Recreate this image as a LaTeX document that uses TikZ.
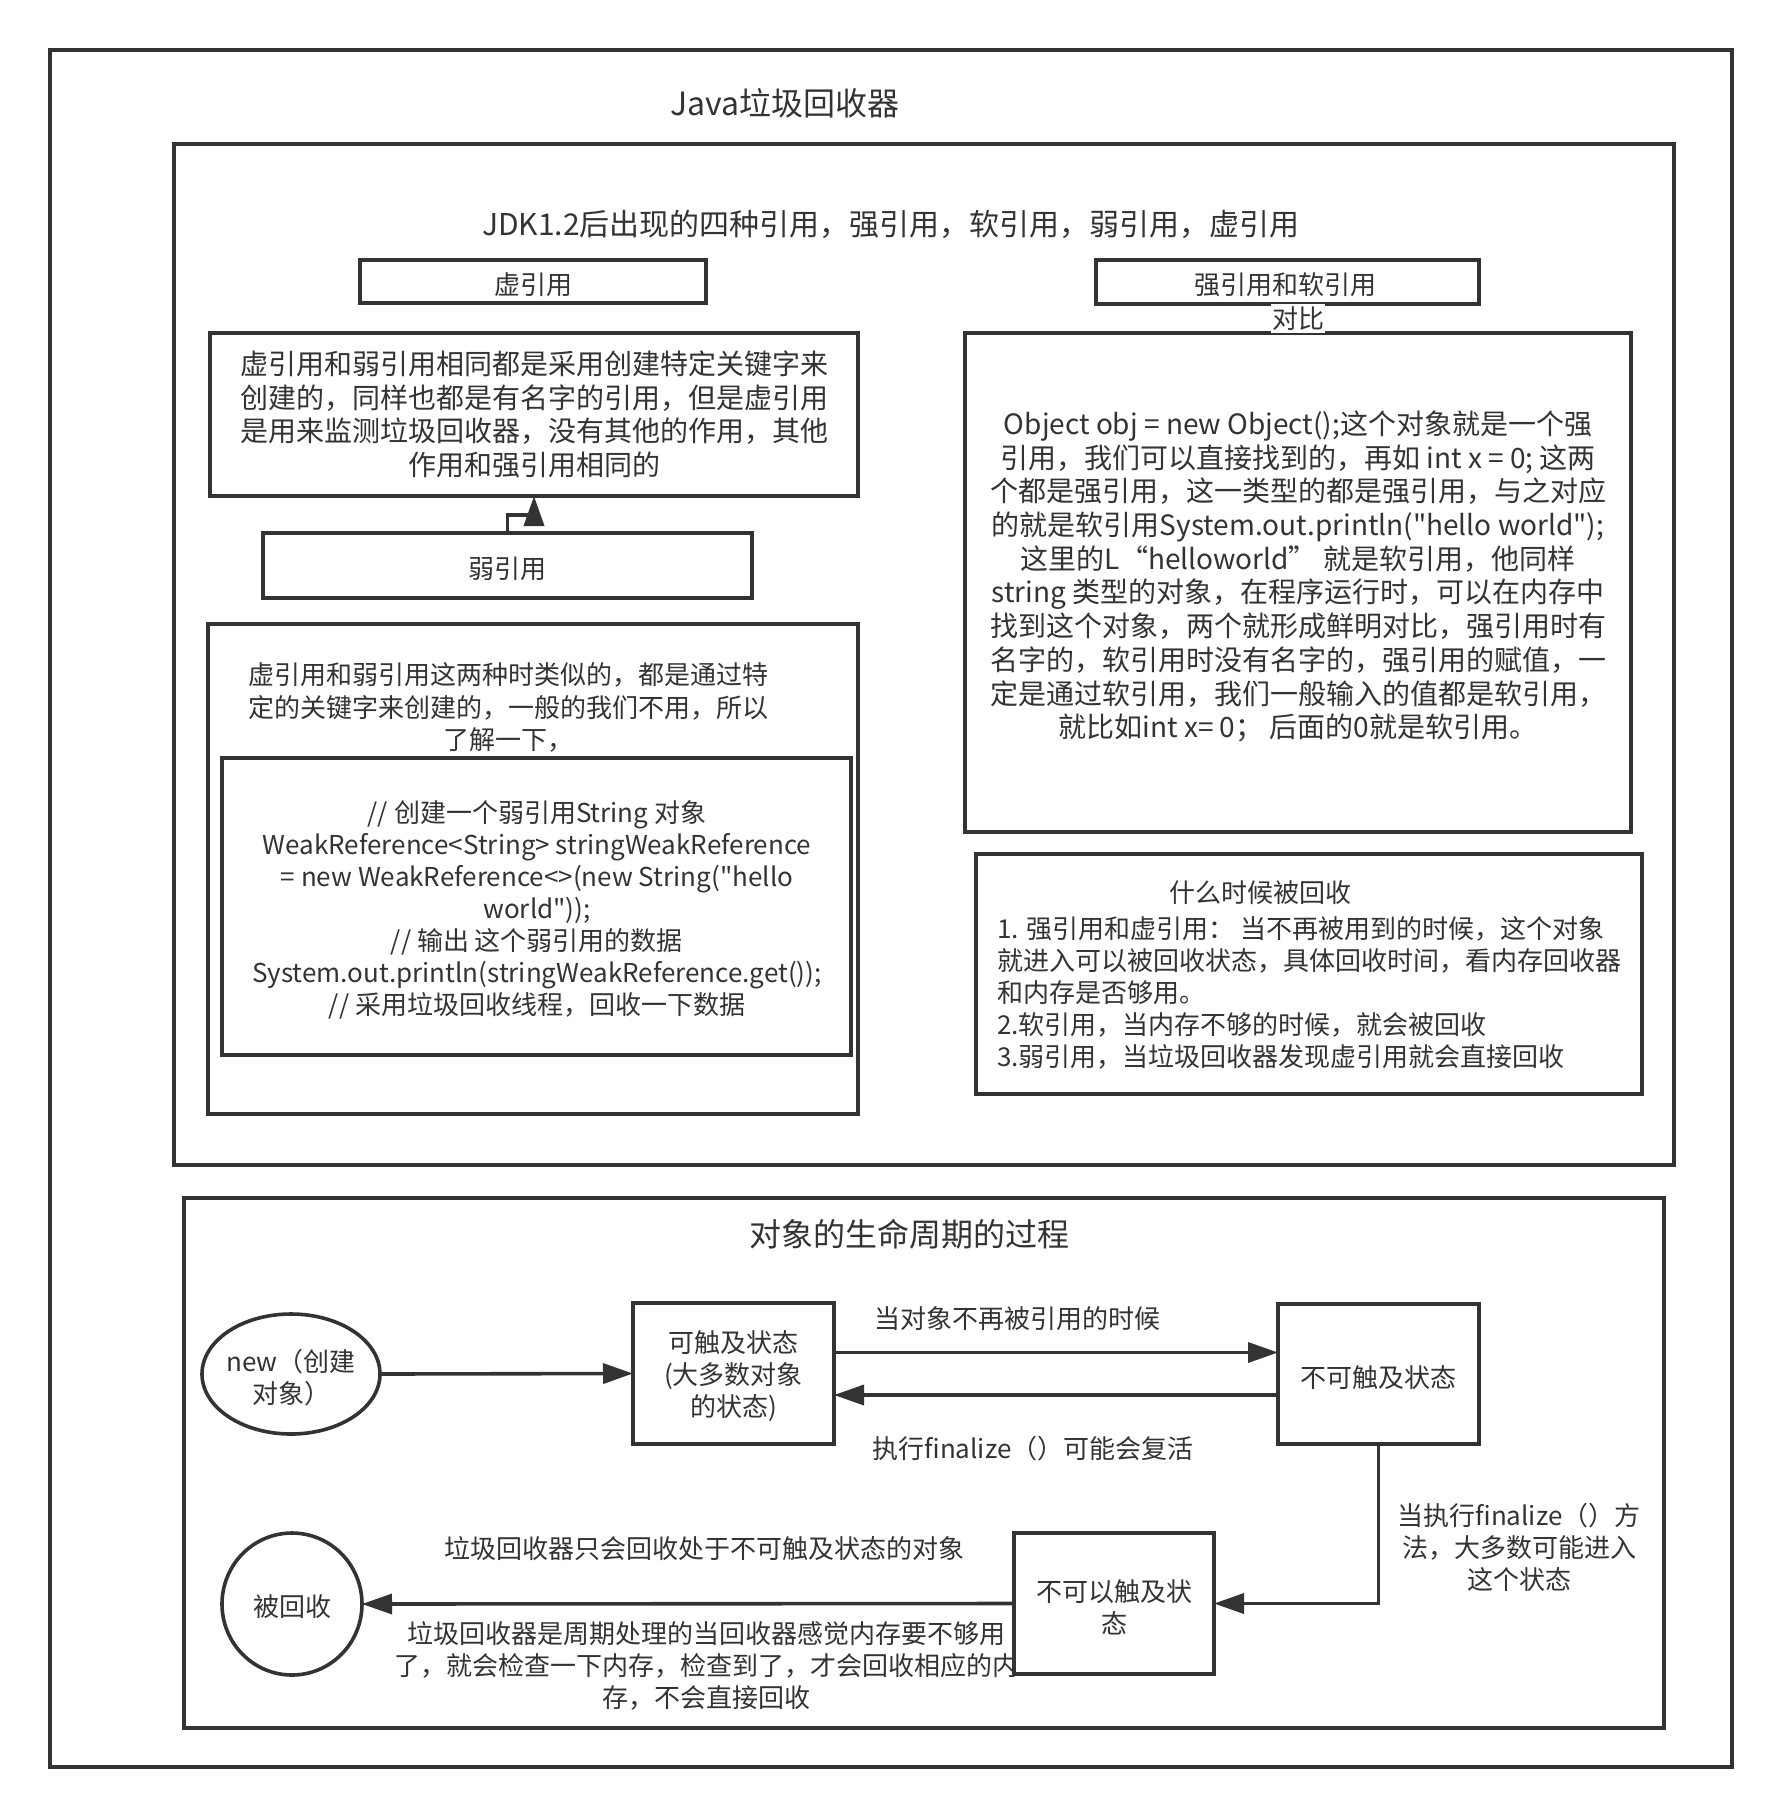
\documentclass[tikz,border=0pt]{standalone}
\usepackage{fontspec}
\setmainfont{Noto Sans CJK SC}[Ligatures=TeXOff]
\usetikzlibrary{arrows.meta,shapes.geometric}
\definecolor{ink}{HTML}{333333}
\newcommand{\txtS}{\fontsize{26}{32}\selectfont}
\newcommand{\txtM}{\fontsize{28}{33.7}\selectfont}
\newcommand{\txtJ}{\fontsize{30}{36}\selectfont}
\newcommand{\txtL}{\fontsize{32}{38}\selectfont}
\begin{document}
\begin{tikzpicture}[x=1pt,y=-1pt,
  box/.style={draw=ink,line width=3.6pt,inner sep=0pt,outer sep=0pt,fill=white,text=ink,align=center,font=\txtS},
  txt/.style={text=ink,inner sep=0pt,outer sep=0pt,align=center,font=\txtS},
  arr/.style={draw=ink,line width=3.6pt,-{Triangle[length=30pt,width=20pt]}}]
\fill[white] (0,0) rectangle (1782,1816);
\useasboundingbox (0,0) rectangle (1782,1816);

% outer frame and title
\node[box,minimum width=1682pt,minimum height=1717pt] (outer) at (891,908.5) {};
\node[txt,font=\txtL] (title) at (785,103) {Java垃圾回收器};

% reference-types frame
\node[box,minimum width=1500pt,minimum height=1021pt] (refs) at (924,654.5) {};
\node[txt,font=\txtJ] (jdk) at (891,224) {JDK1.2后出现的四种引用，强引用，软引用，弱引用，虚引用};

% left column
\node[box,minimum width=346pt,minimum height=43pt] (phantom) at (533,281.5) {};
\node[txt] (phantomtext) at (533,285) {虚引用};
\node[box,minimum width=648pt,minimum height=163pt,font=\txtM] (desc1) at (534,414.5)
  {虚引用和弱引用相同都是采用创建特定关键字来\\创建的，同样也都是有名字的引用，但是虚引用\\是用来监测垃圾回收器，没有其他的作用，其他\\作用和强引用相同的};
\node[box,minimum width=489pt,minimum height=65pt] (weak) at (507.5,565.5) {};
\node[txt] (weaktext) at (507.5,568.5) {弱引用};
\draw[arr] (weak.north) -- ++(0,-18) -| (desc1.south);

\node[box,minimum width=650pt,minimum height=490pt] (box3) at (533,869) {};
\node[txt,font=\fontsize{26}{32.5}\selectfont] (box3text) at (508,707.5)
  {虚引用和弱引用这两种时类似的，都是通过特\\定的关键字来创建的，一般的我们不用，所以\\了解一下，};
\node[box,minimum width=629pt,minimum height=297pt] (code) at (536.5,906.5) {};
\node[txt] (codetext) at (537,910)
  {// 创建一个弱引用String 对象\\WeakReference<String> stringWeakReference\\= new WeakReference<>(new String("hello\\world"));\\// 输出 这个弱引用的数据\\System.out.println(stringWeakReference.get());\\// 采用垃圾回收线程，回收一下数据};

% right column
\node[box,minimum width=383pt,minimum height=44pt] (strong) at (1287.5,282) {};
\node[txt] (strongtext) at (1285,285) {强引用和软引用};
\node[box,minimum width=666pt,minimum height=499pt] (compare) at (1298,582.5) {};
\node[txt,fill=white,minimum width=54pt,minimum height=29pt] (duibi) at (1298,318.5) {对比};
\node[txt,font=\txtM] (comparetext) at (1298,576.5)
  {Object obj = new Object();这个对象就是一个强\\引用，我们可以直接找到的，再如 int x = 0; 这两\\个都是强引用，这一类型的都是强引用，与之对应\\的就是软引用System.out.println("hello world");\\这里的L“helloworld” 就是软引用，他同样\\string 类型的对象，在程序运行时，可以在内存中\\找到这个对象，两个就形成鲜明对比，强引用时有\\名字的，软引用时没有名字的，强引用的赋值，一\\定是通过软引用，我们一般输入的值都是软引用，\\就比如int x= 0； 后面的0就是软引用。};

\node[box,minimum width=666pt,minimum height=240pt] (when) at (1309,974) {};
\node[txt] (whentitle) at (1260,893) {什么时候被回收};
\node[txt,align=left,anchor=west] (whenlist) at (997,993)
  {1. 强引用和虚引用： 当不再被用到的时候，这个对象\\就进入可以被回收状态，具体回收时间，看内存回收器\\和内存是否够用。\\2.软引用，当内存不够的时候，就会被回收\\3.弱引用，当垃圾回收器发现虚引用就会直接回收};

% life-cycle frame
\node[box,minimum width=1480pt,minimum height=530pt] (life) at (924,1463) {};
\node[txt,font=\txtL] (lifetitle) at (909,1234) {对象的生命周期的过程};

\node[txt] (lbl5) at (706,1666)
  {垃圾回收器是周期处理的当回收器感觉内存要不够用\\了，就会检查一下内存，检查到了，才会回收相应的内\\存，不会直接回收};

\node[box,ellipse,minimum width=178pt,minimum height=120pt] (new) at (291,1374) {};
\node[txt] (newtext) at (291,1377.5) {new（创建\\对象）};
\node[box,minimum width=201pt,minimum height=141pt] (reach) at (733.5,1373.5) {};
\node[txt] (reachtext) at (733.5,1376.5) {可触及状态\\(大多数对象\\的状态)};
\node[box,minimum width=201pt,minimum height=140pt] (unreach) at (1378.5,1374) {};
\node[txt] (unreachtext) at (1378.5,1377.5) {不可触及状态};
\node[box,minimum width=200pt,minimum height=141pt] (notreach) at (1114,1603.5) {};
\node[txt] (notreachtext) at (1114,1607.5) {不可以触及状\\态};
\node[box,ellipse,minimum width=140pt,minimum height=142pt] (gone) at (292,1604) {};
\node[txt] (gonetext) at (292,1607) {被回收};

\draw[arr] (new.east) -- (reach.west);
\draw[arr] ([yshift=21pt]reach.east) -- ([yshift=21pt]reach.east -| unreach.west);
\draw[arr] ([yshift=-21pt]unreach.west) -- ([yshift=-21pt]unreach.west -| reach.east);
\draw[arr] (unreach.south) |- (notreach.east);
\draw[arr] (notreach.west) -- (gone.east);

\node[txt] (lbl1) at (1017,1319) {当对象不再被引用的时候};
\node[txt] (lbl2) at (1033,1449) {执行finalize（）可能会复活};
\node[txt] (lbl3) at (1519,1547) {当执行finalize（）方\\法，大多数可能进入\\这个状态};
\node[txt] (lbl4) at (704,1549) {垃圾回收器只会回收处于不可触及状态的对象};
\end{tikzpicture}
\end{document}
